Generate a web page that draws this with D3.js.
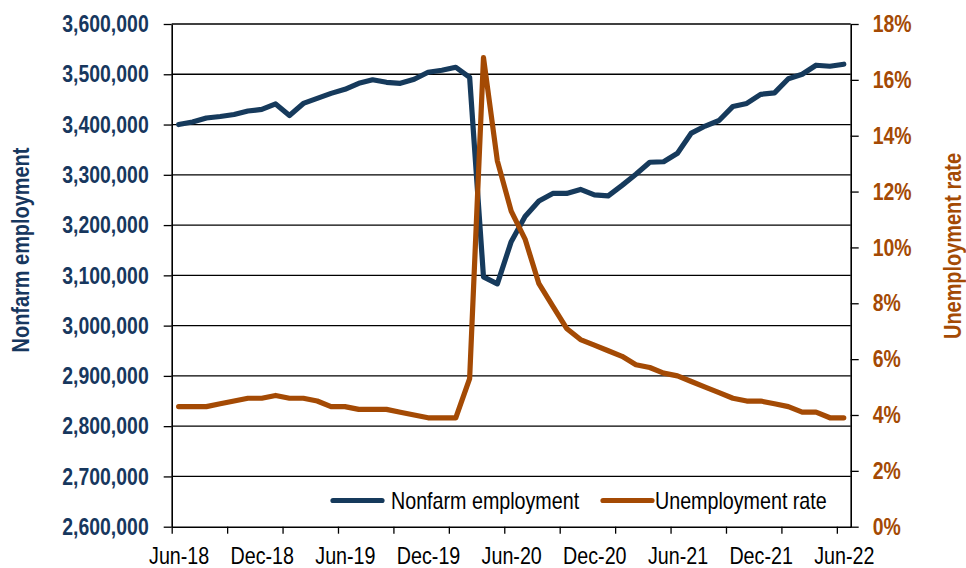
<!DOCTYPE html>
<html>
<head>
<meta charset="utf-8">
<script src="https://cdn.jsdelivr.net/npm/d3@7"></script>
<style>
  body { margin: 0; background: #fff; }
  svg { display: block; }
  text { font-family: "Liberation Sans Narrow", "Arial Narrow", "Liberation Sans", Arial, sans-serif; }
</style>
</head>
<body>
<svg id="chart" width="966" height="568"></svg>
<script>
const months = d3.timeMonth.range(new Date(2018, 5, 1), new Date(2022, 6, 1))
const fmtMonth = d3.timeFormat('%b-%y')

const nonfarm = [
  3400000, 3405000, 3413000, 3416000, 3420000, 3427000, 3430000,
  3441000, 3418000, 3442000, 3452000, 3462000, 3470000, 3482000,
  3489000, 3484000, 3482000, 3490000, 3504000, 3508000, 3514000,
  3494000, 3097000, 3083000, 3167000, 3217000, 3248000, 3263000,
  3263000, 3271000, 3260000, 3258000, 3279000, 3301000, 3325000,
  3326000, 3343000, 3383000, 3397000, 3408000, 3436000, 3442000,
  3460000, 3463000, 3491000, 3500000, 3518000, 3516000, 3520000
]

const unemployment = [
  4.3, 4.3, 4.3, 4.4, 4.5, 4.6, 4.6, 4.7, 4.6, 4.6, 4.5, 4.3, 4.3, 4.2,
  4.2, 4.2, 4.1, 4.0, 3.9, 3.9, 3.9, 5.3, 16.8, 13.1, 11.3, 10.3, 8.7,
  7.9, 7.1, 6.7, 6.5, 6.3, 6.1, 5.8, 5.7, 5.5, 5.4, 5.2, 5.0, 4.8, 4.6,
  4.5, 4.5, 4.4, 4.3, 4.1, 4.1, 3.9, 3.9
]

const leftTicks = d3.range(2600000, 3600001, 100000)
const rightTicks = d3.range(0, 19, 2)
const seriesNames = ['Nonfarm employment', 'Unemployment rate']

const navy = '#17375e'
const lineBlue = '#163a5c'
const orange = '#a44a04'

const svg = d3.select('#chart')
const plotLeft = 171.7, plotRight = 850.7, plotTop = 24, plotBottom = 526.7

// no narrow font installed, so squeeze the regular one
function narrow (sel, k) {
  sel.each(function () {
    const w = this.getComputedTextLength()
    d3.select(this)
      .attr('textLength', w * (k || 0.82))
      .attr('lengthAdjust', 'spacingAndGlyphs')
  })
}

const x = d3.scaleLinear().domain([0, months.length]).range([plotLeft, plotRight])
const yL = d3.scaleLinear().domain([2600000, 3600000]).range([plotBottom, plotTop])
const yR = d3.scaleLinear().domain([0, 18]).range([plotBottom, plotTop])

// gridlines
svg.append('g')
  .selectAll('line')
  .data(leftTicks.slice(1))
  .join('line')
    .attr('x1', plotLeft)
    .attr('x2', plotRight)
    .attr('y1', d => yL(d))
    .attr('y2', d => yL(d))
    .attr('stroke', '#000')
    .attr('stroke-width', 1.3)

// left axis
const gL = svg.append('g')
  .attr('transform', `translate(${plotLeft},0)`)
  .call(d3.axisLeft(yL).tickValues(leftTicks).tickSize(8).tickPadding(15)
    .tickFormat(d3.format(',')).tickSizeOuter(0))
gL.select('.domain').attr('stroke-width', 1.6)
gL.selectAll('.tick line').attr('stroke-width', 1.3)
gL.selectAll('text')
  .attr('font-size', 24)
  .attr('font-weight', 'bold')
  .attr('fill', navy)
  .call(narrow, 0.81)

// right axis
const gR = svg.append('g')
  .attr('transform', `translate(${plotRight},0)`)
  .call(d3.axisRight(yR).tickValues(rightTicks).tickSize(8).tickPadding(14)
    .tickFormat(d => d + '%').tickSizeOuter(0))
gR.select('.domain').attr('stroke-width', 1.6)
gR.selectAll('.tick line').attr('stroke-width', 1.3)
gR.selectAll('text')
  .attr('font-size', 24)
  .attr('font-weight', 'bold')
  .attr('fill', orange)
  .call(narrow, 0.81)

// bottom axis: tick marks every 4 months, labels every 6 months
const tickIdx = d3.range(0, months.length, 4)
const labelIdx = d3.range(0, months.length, 6)

const gB = svg.append('g')
  .attr('transform', `translate(0,${plotBottom})`)
  .call(d3.axisBottom(x).tickValues(tickIdx).tickSize(7).tickFormat('').tickSizeOuter(0))
gB.select('.domain').attr('stroke-width', 1.6)
gB.selectAll('.tick line').attr('stroke-width', 1.3)

svg.append('g')
  .attr('transform', `translate(0,${plotBottom})`)
  .call(d3.axisBottom(x).tickValues(labelIdx.map(i => i + 0.5)).tickSize(0).tickPadding(20)
    .tickFormat(i => fmtMonth(months[Math.floor(i)])))
  .call(g => g.select('.domain').remove())
  .selectAll('text')
    .attr('font-size', 24)
    .attr('fill', '#000')
    .call(narrow)

// axis titles
svg.append('text')
  .attr('transform', `translate(29,250) rotate(-90)`)
  .attr('text-anchor', 'middle')
  .attr('font-size', 24)
  .attr('font-weight', 'bold')
  .attr('fill', navy)
  .text('Nonfarm employment')
  .call(narrow, 0.83)

svg.append('text')
  .attr('transform', `translate(961,246) rotate(-90)`)
  .attr('text-anchor', 'middle')
  .attr('font-size', 24)
  .attr('font-weight', 'bold')
  .attr('fill', orange)
  .text('Unemployment rate')
  .call(narrow, 0.83)

// lines
const lineL = d3.line().x((d, i) => x(i + 0.5)).y(d => yL(d))
const lineR = d3.line().x((d, i) => x(i + 0.5)).y(d => yR(d))

svg.append('path')
  .datum(nonfarm)
  .attr('d', lineL)
  .attr('fill', 'none')
  .attr('stroke', lineBlue)
  .attr('stroke-width', 5.2)
  .attr('stroke-linejoin', 'round')
  .attr('stroke-linecap', 'round')

svg.append('path')
  .datum(unemployment)
  .attr('d', lineR)
  .attr('fill', 'none')
  .attr('stroke', orange)
  .attr('stroke-width', 5.2)
  .attr('stroke-linejoin', 'round')
  .attr('stroke-linecap', 'round')

// legend
const legend = svg.append('g')
const legendItems = [
  { name: seriesNames[0], colour: lineBlue, x: 333, tx: 391 },
  { name: seriesNames[1], colour: orange, x: 603, tx: 655 }
]
legendItems.forEach(d => {
  legend.append('line')
    .attr('x1', d.x)
    .attr('x2', d.x + 49)
    .attr('y1', 500.5)
    .attr('y2', 500.5)
    .attr('stroke', d.colour)
    .attr('stroke-width', 5.2)
    .attr('stroke-linecap', 'round')
  legend.append('text')
    .attr('x', d.tx)
    .attr('y', 509)
    .attr('font-size', 24)
    .attr('fill', '#000')
    .text(d.name)
    .call(narrow, 0.82)
})
</script>
</body>
</html>
